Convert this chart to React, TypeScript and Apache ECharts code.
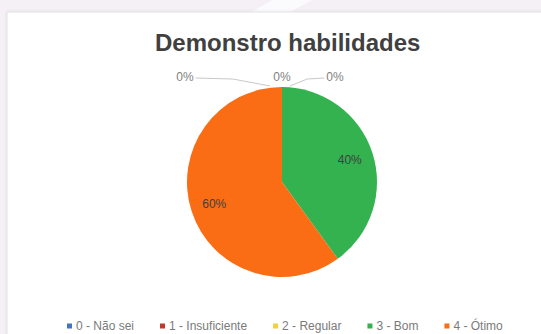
import React, { useEffect, useRef } from "react";
import * as echarts from "echarts";

const title = "Demonstro habilidades";
const categories = ["0 - Não sei", "1 - Insuficiente", "2 - Regular", "3 - Bom", "4 - Ótimo"];
const values = [0, 0, 0, 2, 3];
const colors = ["#4472c4", "#c0392b", "#f2d13a", "#33b24f", "#fa6d14"];

const CX = 282;
const CY = 182;
const R = 95;

export default function App() {
  const ref = useRef<HTMLDivElement>(null);
  useEffect(() => {
    const chart = echarts.init(ref.current!, undefined, { renderer: "svg" });
    const total = values.reduce((a, b) => a + b, 0);
    // offsets of zero-slice labels relative to the top of the pie
    const zeroOffsets: Record<number, { dx: number; line: boolean; end: number }> = {
      0: { dx: -97, line: true, end: -12 },
      1: { dx: 0, line: false, end: 0 },
      2: { dx: 53, line: true, end: 8 },
    };
    chart.setOption({
      animation: false,
      backgroundColor: "#f5f0f6",
      textStyle: { fontFamily: "Liberation Sans, Arial, sans-serif" },
      graphic: [
        {
          type: "polygon",
          silent: true,
          z: 0,
          shape: { points: [[252, 12], [272, 0], [312, 0], [290, 12]] },
          style: { fill: "#fbfafc" },
        },
        {
          type: "rect",
          silent: true,
          z: 0,
          shape: { x: 7, y: 12, width: 540, height: 330 },
          style: { fill: "#ffffff", stroke: "#e2e2e2", lineWidth: 1, shadowBlur: 3, shadowColor: "rgba(0,0,0,0.08)" },
        },
      ],
      title: {
        text: title,
        left: 150,
        top: 25,
        textStyle: { fontSize: 24, fontWeight: "bold", color: "#404040", fontFamily: "Liberation Sans, Arial, sans-serif" },
      },
      legend: {
        top: 315,
        left: 62,
        itemWidth: 5,
        itemHeight: 5,
        itemGap: 26,
        icon: "rect",
        textStyle: { fontSize: 12, color: "#7a7a7a", padding: [0, 0, 0, -1] },
        data: categories,
      },
      series: [
        {
          type: "pie",
          center: [CX, CY],
          radius: [0, R],
          startAngle: 90,
          clockwise: true,
          avoidLabelOverlap: false,
          minShowLabelAngle: 0,
          data: categories.map((c, i) => ({
            name: c,
            value: values[i],
            itemStyle: { color: colors[i] },
            label:
              values[i] === 0
                ? { position: "outside", color: "#7f7f7f", fontSize: 12 }
                : { position: "inside", color: "#404040", fontSize: 12 },
            labelLine: { show: values[i] === 0 && zeroOffsets[i]?.line },
          })),
          label: {
            show: true,
            formatter: (p: any) => `${Math.round((p.value / total) * 100)}%`,
          },
          labelLine: { show: true, lineStyle: { color: "#c8c8c8", width: 1 } },
          itemStyle: { borderWidth: 0 },
          labelLayout: (p: any) => {
            const i = p.dataIndex;
            if (values[i] === 0) {
              const o = zeroOffsets[i];
              const lx = CX + o.dx;
              const ly = CY - R - 10;
              const half = p.labelRect.width / 2;
              const edge = o.dx < 0 ? lx + half + 2 : lx - half - 2;
              const res: any = { x: lx, y: ly, align: "center", verticalAlign: "middle" };
              if (o.line) {
                res.labelLinePoints = [
                  [CX + o.end, CY - R - 1],
                  [(edge + CX + o.end) / 2, ly + 2],
                  [edge, ly + 1],
                ];
              }
              return res;
            }
            const lx = p.labelRect.x + p.labelRect.width / 2;
            const ly = p.labelRect.y + p.labelRect.height / 2;
            const dx = lx - CX;
            const dy = ly - CY;
            const d = Math.sqrt(dx * dx + dy * dy) || 1;
            const k = 0.75 * R;
            return { x: CX + (dx / d) * k, y: CY + (dy / d) * k, align: "center", verticalAlign: "middle" };
          },
        },
      ],
    });
    return () => chart.dispose();
  }, []);
  return <div ref={ref} style={{ position: "absolute", left: 0, top: 0, width: 541, height: 334 }} />;
}
